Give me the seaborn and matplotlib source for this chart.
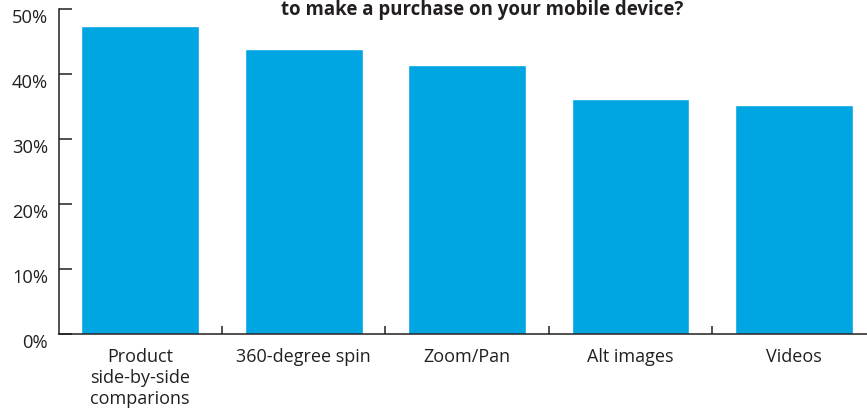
import matplotlib
matplotlib.use("Agg")
import matplotlib.pyplot as plt
import matplotlib.transforms as mtransforms
from matplotlib.ticker import FixedLocator
import seaborn as sns
import pandas as pd

# Survey results: share of respondents naming each feature
features = ["Product\nside-by-side\ncomparions", "360-degree spin", "Zoom/Pan",
            "Alt images", "Videos"]
shares = [47.4, 43.8, 41.4, 36.2, 35.2]
y_ticks = [0, 10, 20, 30, 40, 50]
y_tick_labels = ["0%", "10%", "20%", "30%", "40%", "50%"]
title_text = "to make a purchase on your mobile device?"

sns.set_theme(style="white")
plt.rcParams["font.family"] = ["Open Sans", "DejaVu Sans"]
text_color = "#231F20"
bar_color = "#00A6E2"

df = pd.DataFrame({"feature": features, "share": shares})

W, H = 867, 410
fig = plt.figure(figsize=(W / 100, H / 100), dpi=100)
ax = fig.add_axes([58.5 / W, (H - 335) / H, (W - 58.5) / W, (335 - 10) / H])

sns.barplot(data=df, x="feature", y="share", color=bar_color, saturation=1,
            width=0.72, ax=ax)

ax.set_xlim(-0.5, 4.446)
ax.set_ylim(0, 50)
ax.set_yticks(y_ticks)
ax.set_yticklabels(y_tick_labels)
ax.set_xlabel("")
ax.set_ylabel("")

for side in ["top", "right"]:
    ax.spines[side].set_visible(False)
for side in ["left", "bottom"]:
    ax.spines[side].set_color(text_color)
    ax.spines[side].set_linewidth(1.1)

ax.tick_params(axis="y", direction="in", length=9, width=1.1, color=text_color,
               labelsize=13.2, labelcolor=text_color, pad=7.5, left=True)
ax.tick_params(axis="x", which="major", length=0, labelsize=13,
               labelcolor=text_color, pad=9.5)
ax.xaxis.set_minor_locator(FixedLocator([0.5, 1.5, 2.5, 3.5]))
ax.tick_params(axis="x", which="minor", direction="in", length=6, width=1.1,
               color=text_color, bottom=True)
for lbl in ax.get_xticklabels():
    lbl.set_linespacing(1.2)
    lbl.set_verticalalignment("top")

# percent labels sit a little below their ticks
shift = mtransforms.ScaledTranslation(0, -0.06, fig.dpi_scale_trans)
for lbl in ax.get_yticklabels():
    lbl.set_transform(lbl.get_transform() + shift)

fig.text(482 / W, 1 - 0.5 / H, title_text, ha="center", va="top",
         fontsize=13.4, fontweight="bold", color=text_color)

fig.savefig("out.png", dpi=100)
